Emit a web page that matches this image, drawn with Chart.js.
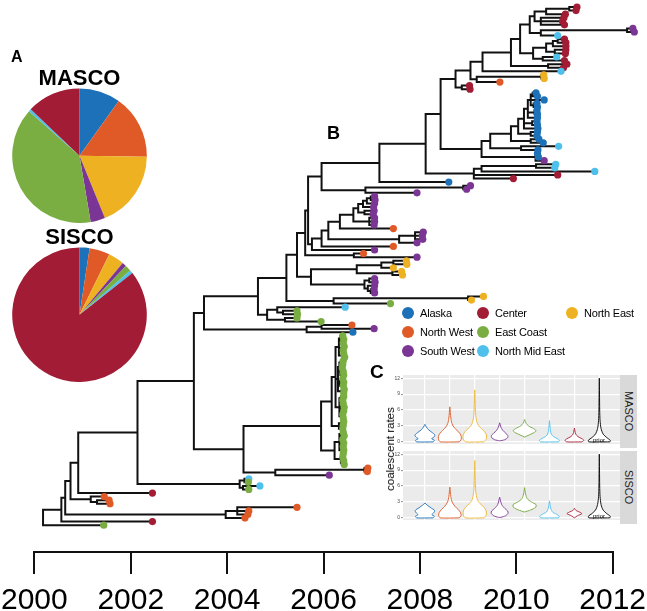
<!DOCTYPE html>
<html>
<head>
<meta charset="utf-8">
<script src="https://cdn.jsdelivr.net/npm/chart.js@4.4.1/dist/chart.umd.min.js"></script>
<style>
  body { margin: 0; background: #fff; }
  #fig { position: relative; width: 647px; height: 611px; overflow: hidden; font-family: 'Liberation Sans', Arial, sans-serif; color: #000; }
  #fig canvas, #fig .txt { position: absolute; }
  .panel { font-weight: bold; line-height: 1; }
  .leg { position: absolute; display: flex; align-items: center; height: 14px; font-size: 11px; letter-spacing: -0.2px; white-space: nowrap; }
  .leg i { display: inline-block; width: 12px; height: 12px; border-radius: 50%; margin-right: 6px; }
  .strip { position: absolute; background: #d9d9d9; display: flex; align-items: center; justify-content: center; writing-mode: vertical-rl; font-size: 11px; color: #1a1a1a; }
</style>
</head>
<body>
<div id="fig">
  <canvas id="tree" width="647" height="627" style="left:0;top:0"></canvas>
  <canvas id="pieMasco" width="135" height="162" style="left:12px;top:61px"></canvas>
  <canvas id="pieSisco" width="135" height="162" style="left:12px;top:220px"></canvas>
  <canvas id="vioMasco" width="232" height="78" style="left:388px;top:370px"></canvas>
  <canvas id="vioSisco" width="232" height="78" style="left:388px;top:446px"></canvas>
  <div class="txt panel" style="left:11px;top:49px;font-size:16px">A</div>
  <div class="txt panel" style="left:327px;top:124px;font-size:18px">B</div>
  <div class="txt panel" style="left:370px;top:362px;font-size:19px">C</div>
  <div class="strip" style="left:620px;top:375px;width:17px;height:73px">MASCO</div>
  <div class="strip" style="left:620px;top:451px;width:17px;height:73px">SISCO</div>
  <div class="txt" style="left:390px;top:449px;font-size:11.5px;transform:translate(-50%,-50%) rotate(-90deg);white-space:nowrap">coalescent rates</div>
  <div class="txt" style="left:593px;top:437px;font-size:6px">prior</div>
  <div class="txt" style="left:593px;top:513px;font-size:6px">prior</div>
  <div id="legend"></div>
</div>
<script>
Chart.defaults.font.family = "'Liberation Sans', Arial, sans-serif";

// regions (tip codes in the tree strings below)
const regions = ['Alaska', 'North West', 'North East', 'South West', 'East Coast', 'North Mid East', 'Center'];
const regionCodes = ['a', 'w', 'e', 's', 'g', 'm', 'c'];
const regionColors = ['#1d71b8', '#e05a28', '#eeb121', '#7b3594', '#7aae42', '#4fc0ec', '#a21c35'];
const legendOrder = ['Alaska', 'North West', 'South West', 'Center', 'East Coast', 'North Mid East', 'North East'];

// pie shares (%) per region, same order as regions
const mascoShares = [9.9, 15.3, 18.6, 3.5, 39.1, 0.6, 12.9];
const siscoShares = [2.4, 4.9, 3.8, 1.0, 1.5, 0.8, 85.6];

// year axis
const yearTicks = [2000, 2002, 2004, 2006, 2008, 2010, 2012];

// tree clades, newick style: tip = region:date, node = (...):date
const topReds = '(((c:2011.26,c:2011.24):2011.10,c:2011.02):2010.62,(c:2010.99,c:2010.96,c:2011.00):2010.51):2010.38';
const purpleCyan = '((s:2012.42,s:2012.45):2012.30,m:2010.86):2010.51';
const redCluster = '((((c:2011.00,c:2011.03):2010.86,c:2011.03):2010.76,(c:2011.03,c:2011.02):2010.80):2010.62,(m:2010.84,c:2011.00):2010.55):2010.35';
const cladeV = `((((((${topReds},${purpleCyan}):2010.28,${redCluster}):2010.08,(c:2011.05,c:2010.98):2010.66):2009.89,m:2010.93):2009.30,((e:2010.57,e:2010.58):2010.52,w:2009.66):2009.18):2009.05,(c:2009.03,c:2009.04):2008.87):2008.74`;
const blueCore = '((a:2010.41,a:2010.44):2010.34,a:2010.58,(a:2010.43,a:2010.44):2010.36):2010.30';
const cladeU = `((((((${blueCore},(a:2010.43,a:2010.44):2010.38,a:2010.44):2010.24,(a:2010.43,a:2010.44):2010.33,a:2010.45):2010.16,(a:2010.44,a:2010.43):2010.30):2010.04,(a:2010.47,a:2010.56):2010.30):2009.89,(m:2010.88,a:2010.45):2010.10):2009.46,(a:2010.44,a:2010.46,s:2010.58):2010.40):2009.28`;
const cladeT = '(((m:2010.82,m:2010.80):2010.41,m:2011.63):2009.28,c:2010.86,c:2009.94):2009.12';
const cladeP = `(((${cladeV},${cladeU}):2008.43,${cladeT}):2008.12,a:2008.60):2007.16`;
const purpleRB = '((s:2009.05,s:2008.97):2008.90,s:2007.94):2006.87';
const purpleLadder = '(((((s:2007.06,s:2007.07):2006.98,s:2007.06):2006.90,s:2007.04):2006.82,(s:2007.05,s:2007.03):2006.85):2006.72,(s:2007.06,s:2007.06,s:2007.05):2006.95):2006.62';
const cladePO = `((((${purpleLadder},w:2007.45):2006.34,((s:2008.07,s:2008.05,s:2008.06):2007.90,s:2007.94):2007.57):2006.10,w:2007.45):2005.96,s:2007.06):2005.76`;
const cladeN12 = `(((${cladeP},${purpleRB}):2005.96,${cladePO}):2005.68,(w:2006.83,s:2007.94):2006.63):2005.62`;
const yellowPurple = '((((e:2007.72,e:2007.73):2007.45,e:2007.45):2007.20,(e:2007.62,e:2007.64):2007.43):2006.69,((s:2007.06,s:2007.07):2006.95,(s:2007.06,(s:2007.05,s:2007.06):2006.98):2006.92):2006.85):2005.74';
const greenSmall = '((m:2006.45,(g:2005.45,g:2005.46):2005.16):2005.04,(g:2005.45,g:2005.95):2005.20):2004.83';
const cladeN8 = `((((${cladeN12},${yellowPurple}):2005.45,((e:2009.32,e:2009.07):2009.00,g:2007.39):2006.21):2005.23,${greenSmall}):2004.64,((w:2006.59,s:2007.05):2005.96,a:2006.61):2005.65):2003.52`;
const greenA1 = '((g:2006.40,(g:2006.42,g:2006.41):2006.37):2006.35,(g:2006.43,g:2006.41):2006.38,(g:2006.42,g:2006.44):2006.39):2006.32';
const greenA2 = '(((g:2006.41,g:2006.40):2006.36,(g:2006.39,g:2006.41,g:2006.42):2006.35):2006.33,((g:2006.40,g:2006.42):2006.37,g:2006.41):2006.34,(g:2006.43,g:2006.42):2006.38):2006.30';
const greenA3 = '((g:2006.42,g:2006.40):2006.36,((g:2006.41,g:2006.43):2006.38,g:2006.42):2006.35,(g:2006.40,g:2006.41):2006.37):2006.33';
const greenB = '((g:2006.41,g:2006.43):2006.37,(g:2006.40,(g:2006.42,g:2006.41):2006.38):2006.36,g:2006.42):2006.33';
const cladeGreen = `(((${greenA1},${greenA2},${greenA3}):2006.25,((g:2006.42,g:2006.41):2006.38,g:2006.40):2006.32):2006.17,(${greenB},((g:2006.41,g:2006.40):2006.37,(g:2006.42,g:2006.43):2006.38):2006.36):2006.23):2005.95`;
const cladeN7 = `(${cladeGreen},((w:2006.92,w:2006.91):2006.85,s:2006.12):2005.00):2004.34`;
const treeString = `(((((((${cladeN8},${cladeN7}):2003.31,((m:2004.45,g:2004.44):2004.36,(m:2004.68,g:2004.45):2004.33):2004.26):2002.14,c:2002.45):2000.91,(w:2001.45,(w:2001.55,w:2001.57):2001.30):2001.17):2000.75,((w:2005.45,w:2004.45,w:2004.43):2004.21,w:2004.37):2003.97):2000.64,c:2002.45):2000.56,g:2001.44):2000.18`;

// violins: [rate, half width] outlines, groups in this order
const violinGroups = ['Alaska', 'North West', 'North East', 'South West', 'East Coast', 'North Mid East', 'Center', 'prior'];
const violinColors = ['#2f7cc2', '#e0683a', '#eebd45', '#8a4aa0', '#7fae4e', '#5cc4ee', '#b0344a', '#111'];
const rateTicks = [0, 1.5, 3, 4.5, 6, 7.5, 9, 10.5, 12];
const mascoViolins = [
  [[0,0.33],[0.3,0.38],[0.6,0.27],[0.9,0.36],[1.3,0.40],[1.8,0.28],[2.3,0.14],[2.8,0.06],[3.3,0]],
  [[0,0.38],[0.4,0.45],[1.0,0.46],[1.6,0.40],[2.2,0.28],[2.8,0.16],[3.5,0.08],[4.5,0.04],[5.5,0.02],[6.6,0]],
  [[0,0.36],[0.5,0.46],[1.3,0.47],[2.0,0.38],[2.7,0.22],[3.4,0.11],[4.3,0.06],[5.5,0.03],[7.5,0.015],[9.8,0]],
  [[0.2,0],[0.4,0.20],[0.8,0.32],[1.2,0.33],[1.6,0.25],[2.2,0.12],[2.8,0.05],[3.6,0]],
  [[0.9,0],[1.3,0.18],[1.8,0.40],[2.1,0.46],[2.5,0.36],[3.0,0.16],[3.5,0.06],[4.2,0]],
  [[0,0.36],[0.3,0.40],[0.6,0.32],[1.0,0.16],[1.5,0.07],[2.5,0.03],[4.0,0]],
  [[0,0.30],[0.3,0.38],[0.6,0.30],[1.0,0.14],[1.5,0.05],[2.6,0]],
  [[0,0.42],[0.3,0.44],[0.8,0.30],[1.5,0.15],[2.5,0.07],[4,0.03],[6,0.015],[9,0.008],[12,0]]
];
const siscoViolins = [
  [[0,0.33],[0.3,0.38],[0.6,0.28],[1.0,0.36],[1.4,0.39],[1.9,0.24],[2.4,0.09],[2.8,0]],
  [[0,0.38],[0.4,0.45],[1.0,0.43],[1.6,0.33],[2.2,0.20],[3.0,0.09],[4.0,0.04],[5.8,0]],
  [[0,0.37],[0.5,0.46],[1.3,0.46],[2.0,0.37],[2.7,0.21],[3.5,0.10],[5.0,0.04],[7.0,0.02],[10.8,0]],
  [[0.1,0.05],[0.4,0.24],[0.9,0.34],[1.3,0.32],[1.8,0.20],[2.5,0.08],[3.9,0]],
  [[1.1,0],[1.5,0.25],[2.0,0.45],[2.5,0.46],[3.0,0.27],[3.6,0.11],[4.5,0.04],[5.7,0]],
  [[0,0.36],[0.3,0.39],[0.7,0.28],[1.1,0.12],[1.8,0.05],[3.2,0]],
  [[0,0],[0.4,0.12],[0.8,0.30],[1.1,0.20],[1.4,0.06],[1.8,0]],
  [[0,0.42],[0.3,0.44],[0.8,0.30],[1.5,0.15],[2.5,0.07],[4,0.03],[6,0.015],[9,0.008],[12,0]]
];

// parse the newick-ish string
function parseTree(str) {
  let i = 0;
  const num = () => {
    const m = /^[0-9.]+/.exec(str.slice(i));
    i += m[0].length;
    return parseFloat(m[0]);
  };
  function node() {
    if (str[i] === '(') {
      i++;
      const kids = [node()];
      while (str[i] === ',') { i++; kids.push(node()); }
      i += 2; // ')' ':'
      return { kids, t: num() };
    }
    const region = str[i];
    i += 2;
    return { region, t: num() };
  }
  return node();
}

const root = parseTree(treeString.replace(/\s+/g, ''));
let rowCount = 0;
function place(n) {
  if (!n.kids) { n.y = rowCount++; return; }
  n.kids.forEach(place);
  n.y = (n.kids[0].y + n.kids[n.kids.length - 1].y) / 2;
}
place(root);

const branchPts = [];
const gap = { x: null, y: null };
const tipsByCode = {};
regionCodes.forEach(c => tipsByCode[c] = []);
function walk(n) {
  if (!n.kids) { tipsByCode[n.region].push({ x: n.t, y: n.y }); return; }
  const f = n.kids[0], l = n.kids[n.kids.length - 1];
  branchPts.push({ x: f.t, y: f.y }, { x: n.t, y: f.y }, { x: n.t, y: l.y }, { x: l.t, y: l.y }, gap);
  n.kids.slice(1, -1).forEach(k => branchPts.push({ x: n.t, y: k.y }, { x: k.t, y: k.y }, gap));
  n.kids.forEach(walk);
}
walk(root);

// rows spread from 3px to 525px of a 552px plot area
const rowPx = 522 / (rowCount - 1);
const yMin = -3 / rowPx;
const yMax = yMin + 552 / rowPx;

// tips past 2012 sit outside the plot area; let them draw
const wideArea = {
  id: 'wideArea',
  beforeDatasetsDraw(c) { c.$saved = { ...c.chartArea }; c.chartArea.right = c.width; },
  afterDatasetsDraw(c) { Object.assign(c.chartArea, c.$saved); }
};

new Chart(document.getElementById('tree'), {
  type: 'line',
  data: {
    datasets: [
      { data: branchPts, borderColor: '#111', borderWidth: 2, pointRadius: 0, spanGaps: false, fill: false, tension: 0,
        borderCapStyle: 'square', borderJoinStyle: 'miter', clip: false, order: 10 },
      ...regionCodes.map((c, i) => ({
        type: 'scatter', label: regions[i], data: tipsByCode[c], backgroundColor: regionColors[i],
        pointRadius: 3.6, pointBorderWidth: 0, clip: false, order: 0
      }))
    ]
  },
  options: {
    responsive: false, animation: false, devicePixelRatio: 1, events: [],
    layout: { padding: 0 },
    plugins: { legend: { display: false }, tooltip: { enabled: false } },
    scales: {
      x: {
        type: 'linear', min: yearTicks[0], max: yearTicks[yearTicks.length - 1],
        border: { display: true, color: '#111', width: 2 },
        grid: { drawOnChartArea: false, drawTicks: true, tickLength: 22, color: '#111', lineWidth: 2 },
        afterBuildTicks: s => { s.ticks = yearTicks.map(v => ({ value: v })); },
        ticks: { padding: 1, color: '#000', font: { size: 30, lineHeight: 1.7 }, maxRotation: 0, autoSkip: false, callback: v => String(v) }
      },
      y: { type: 'linear', display: false, reverse: true, min: yMin, max: yMax }
    }
  },
  plugins: [wideArea]
});

function pieChart(id, title, shares) {
  return new Chart(document.getElementById(id), {
    type: 'pie',
    data: { labels: regions, datasets: [{ data: shares, backgroundColor: regionColors, borderWidth: 0 }] },
    options: {
      responsive: false, animation: false, devicePixelRatio: 1, events: [],
      layout: { padding: 0 },
      plugins: {
        legend: { display: false }, tooltip: { enabled: false },
        title: { display: true, text: title, color: '#000', font: { size: 22, weight: 'bold' }, padding: { top: 5, bottom: -4 } }
      }
    }
  });
}
pieChart('pieMasco', 'MASCO', mascoShares);
pieChart('pieSisco', 'SISCO', siscoShares);

const panelBg = {
  id: 'panelBg',
  beforeDraw(c) {
    const a = c.chartArea;
    c.ctx.save();
    c.ctx.fillStyle = '#ebebeb';
    c.ctx.fillRect(a.left, a.top, a.width, a.height);
    c.ctx.restore();
  }
};

function outline(prof, pos) {
  const right = prof.map(([v, w]) => ({ x: pos + w, y: v }));
  const left = prof.slice().reverse().map(([v, w]) => ({ x: pos - w, y: v }));
  return [...right, ...left, right[0]];
}

function violinChart(id, profiles) {
  return new Chart(document.getElementById(id), {
    type: 'line',
    data: {
      datasets: profiles.map((prof, i) => ({
        label: violinGroups[i], data: outline(prof, i + 1), borderColor: violinColors[i], borderWidth: 1,
        backgroundColor: '#fff', fill: 'shape', pointRadius: 0, tension: 0.25
      }))
    },
    options: {
      responsive: false, animation: false, devicePixelRatio: 1, events: [],
      layout: { padding: { top: 5, right: 0, bottom: 0, left: 0 } },
      plugins: { legend: { display: false }, tooltip: { enabled: false } },
      scales: {
        x: {
          type: 'linear', min: 0.12, max: 8.83,
          afterBuildTicks: s => { s.ticks = violinGroups.map((g, i) => ({ value: i + 1 })); },
          grid: { color: '#fff', lineWidth: 1.2, drawTicks: false },
          border: { display: false },
          ticks: { display: false }
        },
        y: {
          type: 'linear', min: -0.4, max: 12.6,
          afterBuildTicks: s => { s.ticks = rateTicks.map(v => ({ value: v })); },
          afterFit: s => { s.width = 15; },
          grid: {
            color: '#fff', tickLength: 2,
            lineWidth: c => (c.tick && c.tick.value % 3 === 0 ? 1.2 : 0.6),
            tickColor: c => (c.tick && c.tick.value % 3 === 0 ? '#444' : 'rgba(0,0,0,0)'),
            tickWidth: 0.6
          },
          border: { display: false },
          ticks: { padding: 1, color: '#4d4d4d', font: { size: 5 }, callback: v => (v % 3 === 0 ? String(v) : '') }
        }
      }
    },
    plugins: [panelBg]
  });
}
violinChart('vioMasco', mascoViolins);
violinChart('vioSisco', siscoViolins);

// legend, three rows per column
const legendCols = [402, 477, 566];
const legendRows = [313, 332, 351];
const legendBox = document.getElementById('legend');
legendOrder.forEach((name, i) => {
  const el = document.createElement('div');
  el.className = 'leg';
  el.style.left = legendCols[Math.floor(i / 3)] + 'px';
  el.style.top = (legendRows[i % 3] - 7) + 'px';
  el.innerHTML = '<i style="background:' + regionColors[regions.indexOf(name)] + '"></i>' + name;
  legendBox.appendChild(el);
});
</script>
</body>
</html>
